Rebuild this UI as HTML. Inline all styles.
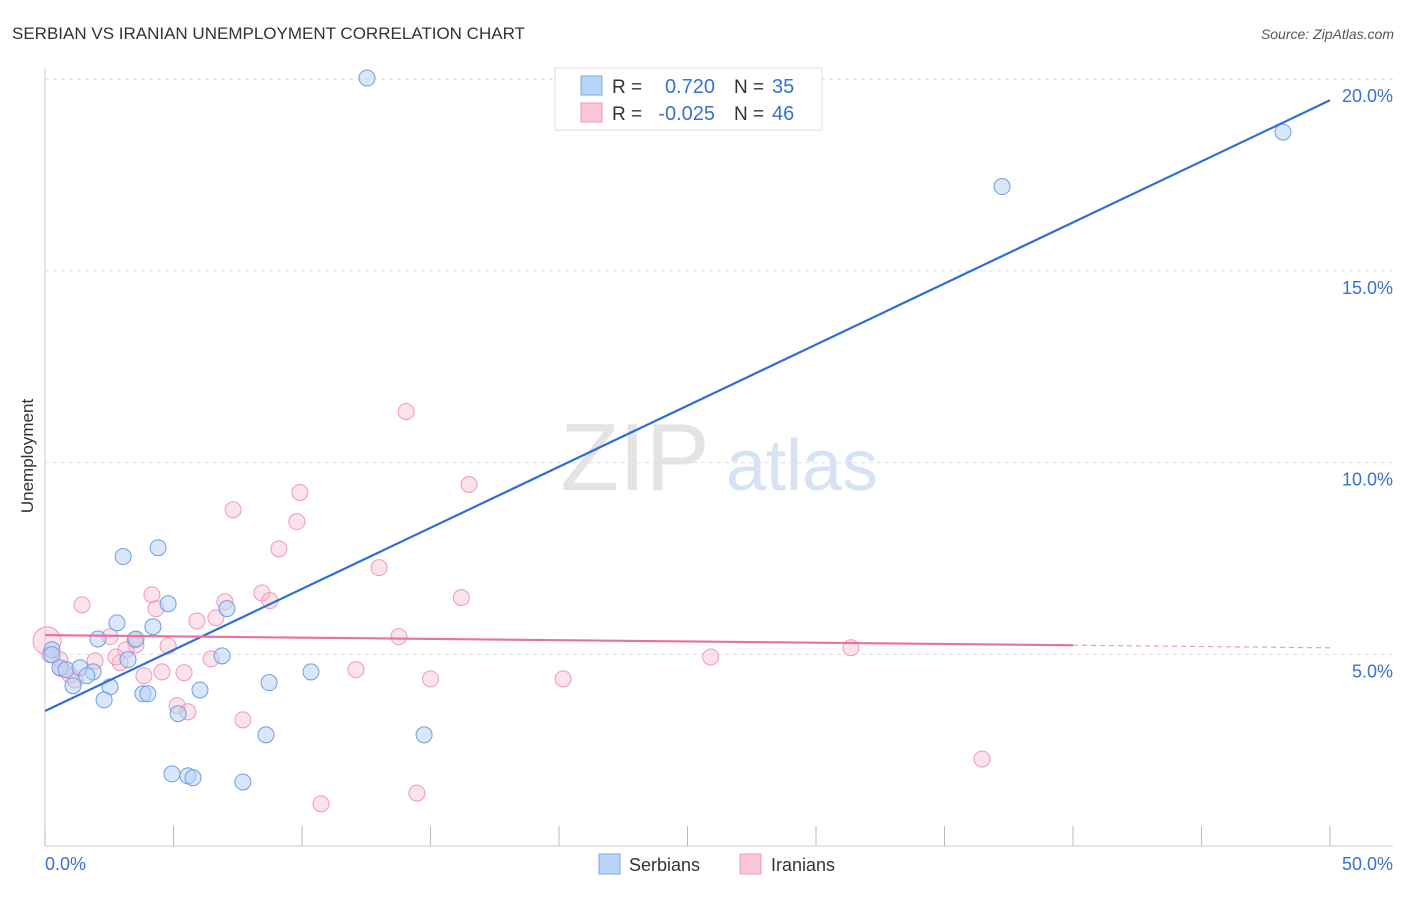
<!DOCTYPE html>
<html><head><meta charset="utf-8"><style>
body{margin:0;background:#fff;font-family:"Liberation Sans",sans-serif;}
svg text{font-family:"Liberation Sans",sans-serif;}
</style></head><body>
<svg id="chart" width="1406" height="892" viewBox="0 0 1406 892">
<text x="12" y="39" font-size="17" fill="#333">SERBIAN VS IRANIAN UNEMPLOYMENT CORRELATION CHART</text>
<text x="1394" y="39" font-size="14" fill="#555" font-style="italic" text-anchor="end">Source: ZipAtlas.com</text>
<text x="33" y="456" font-size="17" fill="#333" transform="rotate(-90 33 456)" text-anchor="middle">Unemployment</text>
<g id="grid"></g>
<text x="635" y="490" font-size="96" fill="#e4e4e4" font-family="Liberation Serif" text-anchor="middle">ZIP</text>
<text x="802" y="490" font-size="72" fill="#d6e3f5" text-anchor="middle">atlas</text>
<g id="marks"></g>
<g>
<rect x="555" y="68" width="267" height="62" fill="#fff" stroke="#ddd"/>
<rect x="581" y="76" width="21" height="19" fill="#b8d3f5" stroke="#7aa8e6"/>
<rect x="581" y="103" width="21" height="19" fill="#f9c6d6" stroke="#ee9ab5"/>
<text x="612" y="93" font-size="19" fill="#333">R =</text><text x="715" y="93" font-size="20" fill="#3a70d0" text-anchor="end">0.720</text>
<text x="734" y="93" font-size="19" fill="#333">N =</text><text x="772" y="93" font-size="20" fill="#3a70d0">35</text>
<text x="612" y="120" font-size="19" fill="#333">R =</text><text x="715" y="120" font-size="20" fill="#3a70d0" text-anchor="end">-0.025</text>
<text x="734" y="120" font-size="19" fill="#333">N =</text><text x="772" y="120" font-size="20" fill="#3a70d0">46</text>
</g>
<g>
<rect x="599" y="854" width="21" height="20" fill="#b8d3f5" stroke="#7aa8e6"/>
<text x="629" y="871" font-size="18" fill="#333">Serbians</text>
<rect x="740" y="854" width="21" height="20" fill="#f9c6d6" stroke="#ee9ab5"/>
<text x="771" y="871" font-size="18" fill="#333">Iranians</text>
</g>
</svg>
<script>
const yTicks=[5,10,15,20];
const xTickVals=[0,5,10,15,20,25,30,35,40,45,50];
const serbX=[12.53,48.17,37.24,3.04,4.4,4.79,2.8,4.2,7.08,2.06,3.54,0.27,0.27,0.58,0.82,1.36,1.87,1.63,1.09,2.53,3.23,2.3,3.81,4.0,6.03,6.89,8.72,10.35,5.18,8.6,14.75,4.94,5.56,5.76,7.7];
const serbY=[20.03,18.62,17.2,7.55,7.78,6.32,5.82,5.72,6.19,5.4,5.4,5.12,4.99,4.65,4.6,4.65,4.54,4.44,4.18,4.15,4.86,3.81,3.97,3.97,4.07,4.96,4.26,4.54,3.45,2.9,2.9,1.88,1.83,1.78,1.67];
const iranX=[14.05,16.5,9.92,7.32,9.8,9.1,13.0,16.2,4.16,1.44,4.32,8.44,8.75,7.0,6.65,5.91,2.53,3.54,4.79,3.15,0.08,13.77,31.36,25.9,1.95,2.92,2.76,6.46,4.55,5.41,3.85,12.1,15.0,20.16,0.66,1.17,0.97,5.14,5.56,7.7,36.46,14.47,10.74,3.5,0.58,0.19];
const iranY=[11.33,9.43,9.22,8.77,8.46,7.75,7.26,6.48,6.55,6.29,6.19,6.6,6.4,6.37,5.95,5.87,5.46,5.25,5.22,5.12,5.35,5.46,5.17,4.93,4.83,4.78,4.93,4.88,4.54,4.52,4.44,4.6,4.36,4.36,4.62,4.33,4.46,3.66,3.5,3.29,2.27,1.38,1.1,5.38,4.86,4.99];
const serbTrend=[3.52,19.45];
const iranTrend=[5.5,5.17];
const xs=v=>45+v*25.7, ys=v=>846-v*38.34;
const NS="http://www.w3.org/2000/svg";
function mk(p,t,a){const e=document.createElementNS(NS,t);for(const k in a)e.setAttribute(k,a[k]);p.appendChild(e);return e;}
const g=document.getElementById('grid'), m=document.getElementById('marks');
mk(g,'line',{x1:45,y1:68,x2:45,y2:846,stroke:'#ccc'});
mk(g,'line',{x1:45,y1:846,x2:1393,y2:846,stroke:'#ccc'});
yTicks.forEach(v=>{const l=mk(g,'line',{x1:45,y1:ys(v),x2:1393,y2:ys(v),stroke:'#ddd','stroke-dasharray':'4,4'});

const t=mk(g,'text',{x:1393,y:ys(v)+23,'font-size':18,fill:'#3a70d0','text-anchor':'end'});t.textContent=v.toFixed(1)+'%';
});
xTickVals.forEach(v=>{const l=mk(g,'line',{x1:xs(v),y1:826,x2:xs(v),y2:846,stroke:'#bbb'});
});
[[0,'start'],[50,'end']].forEach(([v,a])=>{const t=mk(g,'text',{x:v==0?45:1393,y:870,'font-size':18,fill:'#3a70d0','text-anchor':a});t.textContent=v.toFixed(1)+'%';
});
iranX.forEach((x,i)=>{const c=mk(m,'circle',{cx:xs(x),cy:ys(iranY[i]),r:i==20?14:8,fill:'rgba(249,190,210,0.45)',stroke:'#ee9ab5','stroke-width':1});
});
serbX.forEach((x,i)=>{const c=mk(m,'circle',{cx:xs(x),cy:ys(serbY[i]),r:8,fill:'rgba(184,211,245,0.55)',stroke:'#6d9fe0','stroke-width':1});
});
const bl=mk(m,'line',{x1:xs(0),y1:ys(serbTrend[0]),x2:xs(50),y2:ys(serbTrend[1]),stroke:'#2e6fd6','stroke-width':2.2});

const iy=x=>iranTrend[0]+(iranTrend[1]-iranTrend[0])*x/50;
const pl=mk(m,'line',{x1:xs(0),y1:ys(iy(0)),x2:xs(40),y2:ys(iy(40)),stroke:'#e8729a','stroke-width':2.2});

const pd=mk(m,'line',{x1:xs(40),y1:ys(iy(40)),x2:xs(50),y2:ys(iy(50)),stroke:'#e8a0b8','stroke-width':1.2,'stroke-dasharray':'5,4'});

</script>
</body></html>
